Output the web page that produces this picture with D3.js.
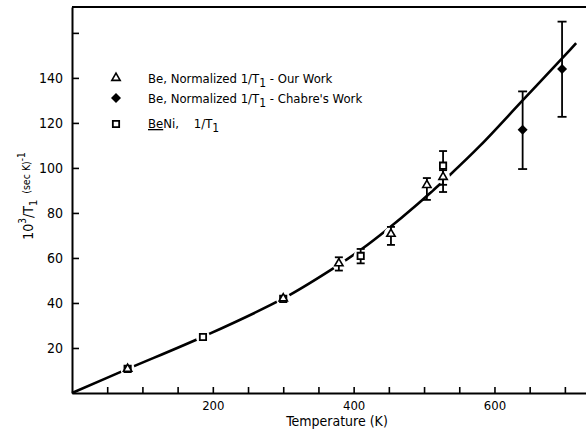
<!DOCTYPE html>
<html>
<head>
<meta charset="utf-8">
<script src="https://cdn.jsdelivr.net/npm/d3@7"></script>
<style>
  html, body { margin: 0; padding: 0; background: #fff; }
  text { font-family: "Liberation Sans Narrow", "DejaVu Sans Condensed", "Liberation Sans", sans-serif; fill: #000; }
</style>
</head>
<body>
<svg id="chart" width="586" height="429"></svg>
<script>
// ---- data ----
// Be, normalized 1/T1 - Our Work (triangles)
const ourT   = [79, 300, 379, 453, 504, 527];
const ourV   = [10.7, 42, 57.6, 70.7, 92.4, 96];
const ourLo  = [null, null, 54.4, 65.8, 85.8, 89.3];
const ourHi  = [null, null, 60.3, 73.8, 95.5, 99];
// Be, normalized 1/T1 - Chabre's Work (filled diamonds)
const chT    = [640, 696];
const chV    = [117, 144];
const chLo   = [99.5, 122.7];
const chHi   = [134, 165];
// BeNi, 1/T1 (squares)
const niT    = [79, 186, 300, 410, 527];
const niV    = [10.7, 24.9, 41.8, 60.9, 101];
const niLo   = [null, null, null, 57.6, 92.5];
const niHi   = [null, null, null, 64, 107.5];
// fitted curve
const curveT = [0, 79, 186, 300, 379, 413, 445, 491, 537, 580, 640, 700, 716];
const curveV = [0, 10.7, 25, 42, 57, 64.3, 72, 84, 97, 110, 130, 150, 155.5];
// ticks
const xTicks = [50,100,150,200,250,300,350,400,450,500,550,600,650,700];
const xLabels = [200, 400, 600];
const yTicks = [20,40,60,80,100,120,140,160];
const yLabels = [20,40,60,80,100,120,140];

const svg = d3.select("#chart");
const x = d3.scaleLinear().domain([0, 730]).range([72, 586]);
const y = d3.scaleLinear().domain([0, 171.5]).range([393, 7]);

// axes
const xAxis = d3.axisBottom(x).tickValues(xTicks).tickSizeInner(-6).tickSizeOuter(0).tickPadding(8)
  .tickFormat(d => xLabels.includes(d) ? d : "");
const gx = svg.append("g").attr("transform", `translate(0,${y(0)})`).call(xAxis);
const yAxis = d3.axisLeft(y).tickValues(yTicks).tickSizeInner(-7).tickSizeOuter(0).tickPadding(9)
  .tickFormat(d => yLabels.includes(d) ? d : "");
const gy = svg.append("g").attr("transform", `translate(${x(0)},0)`).call(yAxis);
[gx, gy].forEach(g => {
  g.select(".domain").attr("stroke", "#000").attr("stroke-width", 2);
  g.selectAll(".tick line").attr("stroke", "#000").attr("stroke-width", 1.6);
  g.selectAll(".tick text").attr("fill", "#000");
});
gx.selectAll(".tick text").style("font-size", "13px");
gy.selectAll(".tick text").style("font-size", "14px");
// top border
svg.append("line").attr("x1", x(0)).attr("x2", x(730)).attr("y1", y(171.5)).attr("y2", y(171.5))
  .attr("stroke", "#000").attr("stroke-width", 2);

// axis titles
svg.append("text").attr("x", 337).attr("y", 426).attr("text-anchor", "middle")
  .style("font-size", "14px").text("Temperature (K)");
const yt = svg.append("text").attr("transform", "translate(33,196) rotate(-90)")
  .attr("text-anchor", "middle").style("font-size", "14px");
yt.append("tspan").text("10");
yt.append("tspan").attr("dy", -7).style("font-size", "10px").text("3");
yt.append("tspan").attr("dy", 7).text("/T");
yt.append("tspan").attr("dy", 4).style("font-size", "11px").text("1");
yt.append("tspan").attr("dy", -7).style("font-size", "10.5px").text("\u00a0\u00a0(sec K)");
yt.append("tspan").attr("dy", -5).style("font-size", "10px").text("-1");

// curve
const line = d3.line().x((d, i) => x(curveT[i])).y((d, i) => y(curveV[i])).curve(d3.curveCatmullRom);
svg.append("path").datum(curveV).attr("d", line).attr("fill", "none")
  .attr("stroke", "#000").attr("stroke-width", 2.6);

// white halos to break the curve around markers
const haloPts = [];
ourT.forEach((t, i) => haloPts.push([t, ourV[i]]));
niT.forEach((t, i) => haloPts.push([t, niV[i]]));
svg.append("g").selectAll("circle").data(haloPts).join("circle")
  .attr("cx", d => x(d[0])).attr("cy", d => y(d[1])).attr("r", 7).attr("fill", "#fff");

// error bars
function errBars(T, lo, hi, cap) {
  const g = svg.append("g").attr("stroke", "#000").attr("stroke-width", 1.8);
  T.forEach((t, i) => {
    if (lo[i] == null) return;
    const cx = x(t);
    g.append("line").attr("x1", cx).attr("x2", cx).attr("y1", y(lo[i])).attr("y2", y(hi[i]));
    g.append("line").attr("x1", cx - cap).attr("x2", cx + cap).attr("y1", y(lo[i])).attr("y2", y(lo[i]));
    g.append("line").attr("x1", cx - cap).attr("x2", cx + cap).attr("y1", y(hi[i])).attr("y2", y(hi[i]));
  });
}
errBars(ourT, ourLo, ourHi, 4);
errBars(niT, niLo, niHi, 4);
errBars(chT, chLo, chHi, 4.5);

// markers
const tri = d3.symbol().type(d3.symbolTriangle).size(30);
const sq = d3.symbol().type(d3.symbolSquare).size(40);
const dia = d3.symbol().type(d3.symbolSquare).size(50);
svg.append("g").selectAll("path").data(niT).join("path")
  .attr("d", sq).attr("transform", (d, i) => `translate(${x(d)},${y(niV[i])})`)
  .attr("fill", "#fff").attr("stroke", "#000").attr("stroke-width", 1.8);
svg.append("g").selectAll("path").data(ourT).join("path")
  .attr("d", tri).attr("transform", (d, i) => `translate(${x(d)},${y(ourV[i])})`)
  .attr("fill", "#fff").attr("stroke", "#000").attr("stroke-width", 1.6);
svg.append("g").selectAll("path").data(chT).join("path")
  .attr("d", dia).attr("transform", (d, i) => `translate(${x(d)},${y(chV[i])}) rotate(45)`)
  .attr("fill", "#000");

// legend
const lg = svg.append("g");
lg.append("path").attr("d", tri).attr("transform", "translate(116,78)")
  .attr("fill", "#fff").attr("stroke", "#000").attr("stroke-width", 1.6);
lg.append("path").attr("d", dia).attr("transform", "translate(116,98) rotate(45)").attr("fill", "#000");
lg.append("path").attr("d", sq).attr("transform", "translate(116,124)")
  .attr("fill", "#fff").attr("stroke", "#000").attr("stroke-width", 1.8);

function legendText(yy, pre, post) {
  const t = lg.append("text").attr("x", 148).attr("y", yy).style("font-size", "13px");
  t.append("tspan").text(pre);
  t.append("tspan").attr("dy", 4).style("font-size", "12px").text("1");
  t.append("tspan").attr("dy", -4).text(post);
  return t;
}
legendText(83, "Be,  Normalized 1/T", "  -  Our Work");
legendText(103, "Be,  Normalized 1/T", "  -  Chabre's Work");
const t3 = lg.append("text").attr("x", 148).attr("y", 128).style("font-size", "13px");
t3.append("tspan").attr("text-decoration", "underline").text("Be");
t3.append("tspan").text("Ni,\u00a0\u00a0\u00a0\u00a01/T");
t3.append("tspan").attr("dy", 4).style("font-size", "12px").text("1");
</script>
</body>
</html>
